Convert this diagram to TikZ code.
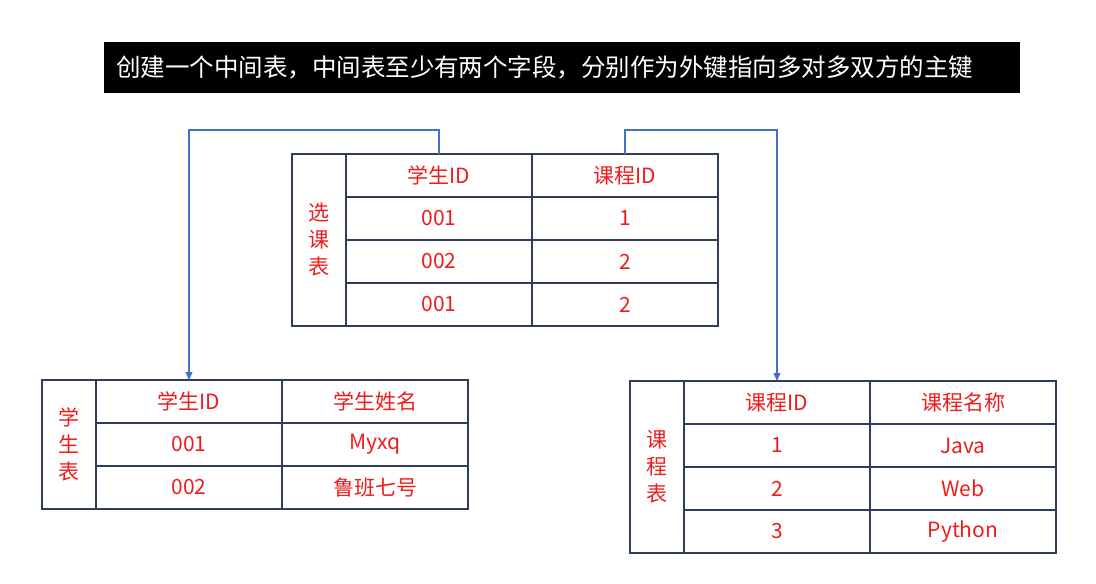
\documentclass[tikz,border=0pt]{standalone}
\usepackage{fontspec}
\newfontfamily\cjk{Noto Sans CJK SC}
\usepackage{tikz}
\usetikzlibrary{arrows.meta, positioning}
\definecolor{tblline}{HTML}{2F3C5C}
\definecolor{tblred}{HTML}{EE1C1C}
\definecolor{linkblue}{HTML}{4472C4}

\begin{document}
\begin{tikzpicture}[
            x=1pt, y=-1pt,
            >={Triangle[length=8pt, width=7pt]},
            cell/.style={draw=tblline, line width=1.3pt, outer sep=0pt, inner sep=0pt, minimum width=186pt, minimum height=43pt, text=tblred, font=\cjk\fontsize{21}{27}\selectfont},
            side/.style={cell, minimum width=54pt, align=center},
            link/.style={draw=linkblue, line width=1.1pt, ->}
        ]
        \useasboundingbox (0,0) rectangle (1096,584);

        % Title
        \node [fill=black, text=white, font=\cjk\fontsize{24.5}{30}\selectfont, text width=892pt, inner xsep=12pt, inner ysep=0pt, minimum height=51pt, align=left] (title) at (562,67.5) {创建一个中间表，中间表至少有两个字段，分别作为外键指向多对多双方的主键};

        % Join table
        \node [side, minimum height=172pt] (sc) at (319,240) {选\\课\\表};
        \node [cell, anchor=north west] (sc-h1) at (sc.north east) {学生ID};
        \node [cell, right=0pt of sc-h1] (sc-h2) {课程ID};
        \node [cell, below=0pt of sc-h1] (sc-a1) {001};
        \node [cell, below=0pt of sc-h2] (sc-b1) {1};
        \node [cell, below=0pt of sc-a1] (sc-a2) {002};
        \node [cell, below=0pt of sc-b1] (sc-b2) {2};
        \node [cell, below=0pt of sc-a2] (sc-a3) {001};
        \node [cell, below=0pt of sc-b2] (sc-b3) {2};

        % Student table
        \node [side, minimum height=129pt] (st) at (69,444.5) {学\\生\\表};
        \node [cell, anchor=north west] (st-h1) at (st.north east) {学生ID};
        \node [cell, right=0pt of st-h1] (st-h2) {学生姓名};
        \node [cell, below=0pt of st-h1] (st-a1) {001};
        \node [cell, below=0pt of st-h2] (st-b1) {Myxq};
        \node [cell, below=0pt of st-a1] (st-a2) {002};
        \node [cell, below=0pt of st-b1] (st-b2) {鲁班七号};

        % Course table
        \node [side, minimum height=172pt] (cr) at (657,467) {课\\程\\表};
        \node [cell, anchor=north west] (cr-h1) at (cr.north east) {课程ID};
        \node [cell, right=0pt of cr-h1] (cr-h2) {课程名称};
        \node [cell, below=0pt of cr-h1] (cr-a1) {1};
        \node [cell, below=0pt of cr-h2] (cr-b1) {Java};
        \node [cell, below=0pt of cr-a1] (cr-a2) {2};
        \node [cell, below=0pt of cr-b1] (cr-b2) {Web};
        \node [cell, below=0pt of cr-a2] (cr-a3) {3};
        \node [cell, below=0pt of cr-b2] (cr-b3) {Python};

        % Foreign keys
        \draw [link] (sc-h1.north) -- ++(0,-24) -| (st-h1.north);
        \draw [link] (sc-h2.north) -- ++(0,-24) -| (cr-h1.north);
    \end{tikzpicture}
\end{document}
